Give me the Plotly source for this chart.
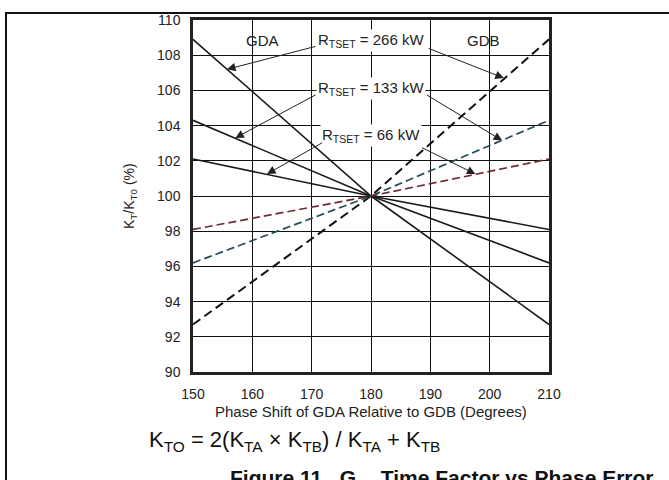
import plotly.graph_objects as go

# ---- data ----
phase_deg = [150, 180, 210]
gda_266 = [108.9, 100.0, 92.7]
gda_133 = [104.3, 100.0, 96.2]
gda_66 = [102.1, 100.0, 98.1]
gdb_266 = [92.7, 100.0, 108.9]
gdb_133 = [96.2, 100.0, 104.3]
gdb_66 = [98.1, 100.0, 102.1]
x_ticks = [150, 160, 170, 180, 190, 200, 210]
y_ticks = [90, 92, 94, 96, 98, 100, 102, 104, 106, 108, 110]

FONT = "Liberation Sans, Arial, sans-serif"

fig = go.Figure()
solid_style = dict(color="#1a1a1a", width=1.6)
for ys in (gda_266, gda_133, gda_66):
    fig.add_trace(go.Scatter(x=phase_deg, y=ys, mode="lines", line=solid_style,
                             showlegend=False, hoverinfo="skip"))
fig.add_trace(go.Scatter(x=phase_deg, y=gdb_266, mode="lines",
                         line=dict(color="#111111", width=2, dash="9px,5px"),
                         showlegend=False, hoverinfo="skip"))
fig.add_trace(go.Scatter(x=phase_deg, y=gdb_133, mode="lines",
                         line=dict(color="#254b5a", width=1.7, dash="8px,4px"),
                         showlegend=False, hoverinfo="skip"))
fig.add_trace(go.Scatter(x=phase_deg, y=gdb_66, mode="lines",
                         line=dict(color="#6e2a30", width=1.7, dash="8px,4px"),
                         showlegend=False, hoverinfo="skip"))

ann = []
# region labels
ann.append(dict(x=161.7, y=108.85, xref="x", yref="y", text="GDA", showarrow=False,
                font=dict(family=FONT, size=15, color="#222")))
ann.append(dict(x=198.9, y=108.85, xref="x", yref="y", text="GDB", showarrow=False,
                font=dict(family=FONT, size=15, color="#222")))
# R_TSET labels
labels = [("266", 108.82), ("133", 106.1), ("66", 103.42)]
for val, yy in labels:
    ann.append(dict(x=180, y=yy, xref="x", yref="y",
                    text="R<sub>TSET</sub> = %s kW" % val, showarrow=False,
                    bgcolor="white", borderpad=1,
                    font=dict(family=FONT, size=15, color="#222")))
# arrows: (head_x, head_y, tail_x, tail_y)
arrows = [
    (155.73, 107.2, 170.9, 108.52),
    (202.38, 106.7, 189.46, 108.42),
    (157.13, 103.3, 170.9, 105.79),
    (202.1, 103.15, 189.17, 105.79),
    (162.48, 101.25, 172.02, 103.07),
    (197.6, 101.25, 188.33, 102.79),
]
for hx, hy, tx, ty in arrows:
    ann.append(dict(x=hx, y=hy, ax=tx, ay=ty, xref="x", yref="y", axref="x", ayref="y",
                    text="", showarrow=True, arrowhead=2, arrowsize=1.7, arrowwidth=1,
                    arrowcolor="#222"))
# axis titles
ann.append(dict(x=-0.177, y=0.5, xref="paper", yref="paper", textangle=-90,
                xanchor="center", yanchor="middle",
                text="K<sub>T</sub>/K<sub>T0</sub> (%)", showarrow=False,
                font=dict(family=FONT, size=14, color="#222")))
ann.append(dict(x=0.5, y=-0.113, xref="paper", yref="paper", xanchor="center", yanchor="middle",
                text="Phase Shift of GDA Relative to GDB (Degrees)", showarrow=False,
                font=dict(family=FONT, size=15, color="#222")))
# formula
ann.append(dict(x=-0.129, y=-0.195, xref="paper", yref="paper", xanchor="left", yanchor="middle",
                text="K<sub>TO</sub> = 2(K<sub>TA</sub> × K<sub>TB</sub>) / K<sub>TA</sub> + K<sub>TB</sub>",
                showarrow=False, font=dict(family=FONT, size=22, color="#111")))
# caption (cut off at bottom)
ann.append(dict(x=0.098, y=-0.262, xref="paper", yref="paper", xanchor="left", yanchor="top",
                text="<b>Figure 11.  G<sub>m</sub>  Time Factor vs Phase Error</b>",
                showarrow=False, font=dict(family=FONT, size=21, color="#111")))

# outer frame lines
x_left = (6 - 193) / 356.0
x_right = (669 - 193) / 356.0
y_top = (372 - 11) / 354.0
y_bot = (372 - 485) / 354.0
shapes = [
    dict(type="path", xref="paper", yref="paper",
         path="M %f,%f L %f,%f L %f,%f" % (x_left, y_bot, x_left, y_top, x_right, y_top),
         line=dict(color="#111", width=2)),
]

axis_common = dict(showgrid=True, gridcolor="#111", gridwidth=1, zeroline=False,
                   showline=True, linecolor="#222", linewidth=2.5, mirror=True,
                   ticks="", ticklabelstandoff=7,
                   tickfont=dict(family=FONT, size=14, color="#222"))
fig.update_layout(
    width=669, height=480,
    margin=dict(l=193, r=120, t=18, b=108),
    paper_bgcolor="white", plot_bgcolor="white",
    xaxis=dict(range=[150, 210], tickvals=x_ticks, **axis_common),
    yaxis=dict(range=[90, 110], tickvals=y_ticks, **axis_common),
    annotations=ann, shapes=shapes,
)
fig.write_html("out.html", config={"displayModeBar": False},
               post_script="document.body.style.margin='0';document.body.style.overflow='hidden';")
